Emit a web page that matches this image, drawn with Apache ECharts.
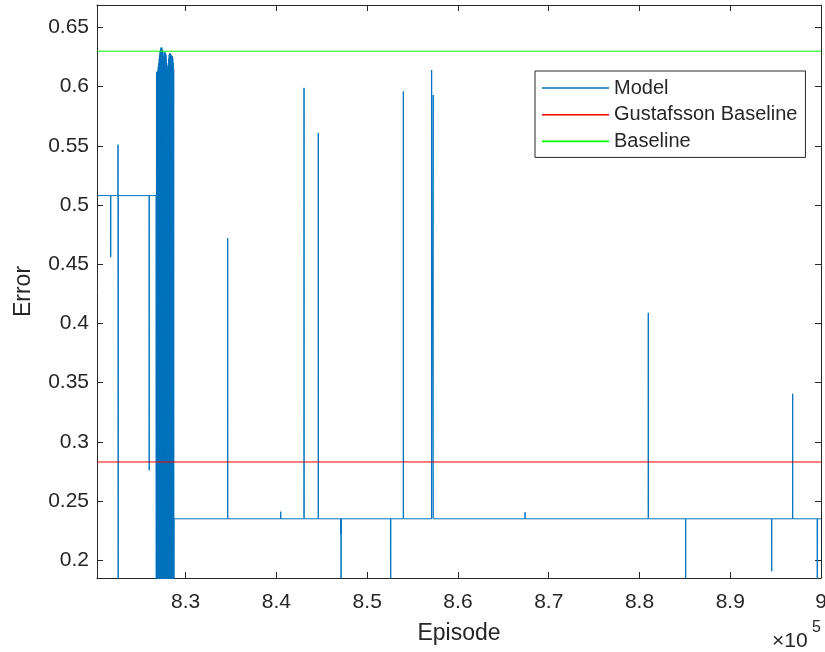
<!DOCTYPE html>
<html>
<head>
<meta charset="utf-8">
<script src="https://cdn.jsdelivr.net/npm/echarts@6/dist/echarts.min.js"></script>
<style>
  html, body { margin: 0; padding: 0; background: #fff; }
  #chart { width: 825px; height: 652px; }
</style>
</head>
<body>
<div id="chart"></div>
<script>
// Model error per episode: early plateau and isolated spikes
const earlyX = [820230, 821730, 821740, 821750, 822530, 822540, 822560, 822575,
                825970, 825980, 825990, 826730];
const earlyY = [0.508, 0.508, 0.456, 0.508, 0.508, 0.551, 0.17, 0.508,
                0.508, 0.276, 0.508, 0.508];

// Dense oscillating burst around 8.27e5
const burstX = [
  826755, 826780, 826805, 826830, 826855, 826880, 826905, 826930, 826955, 826980,
  827005, 827030, 827055, 827080, 827105, 827130, 827155, 827180, 827205, 827230,
  827255, 827280, 827305, 827330, 827355, 827380, 827405, 827430, 827455, 827480,
  827505, 827530, 827555, 827580, 827605, 827630, 827655, 827680, 827705, 827730,
  827755, 827780, 827805, 827830, 827855, 827880, 827905, 827930, 827955, 827980,
  828005, 828030, 828055, 828080, 828105, 828130, 828155, 828180, 828205, 828230,
  828255, 828280, 828305, 828330, 828355, 828380, 828405, 828430, 828455, 828480,
  828505, 828530, 828555, 828580, 828605, 828630, 828655, 828680, 828705
];
const burstY = [
  0.17, 0.612, 0.17, 0.612, 0.17, 0.613, 0.17, 0.614, 0.17, 0.617,
  0.17, 0.620, 0.17, 0.624, 0.17, 0.627, 0.17, 0.630, 0.17, 0.632,
  0.17, 0.633, 0.17, 0.632, 0.17, 0.633, 0.17, 0.631, 0.17, 0.630,
  0.17, 0.626, 0.17, 0.624, 0.17, 0.628, 0.17, 0.629, 0.17, 0.629,
  0.17, 0.628, 0.17, 0.627, 0.17, 0.622, 0.17, 0.618, 0.17, 0.615,
  0.17, 0.616, 0.17, 0.620, 0.17, 0.624, 0.17, 0.627, 0.17, 0.628,
  0.17, 0.627, 0.17, 0.628, 0.17, 0.627, 0.17, 0.626, 0.17, 0.625,
  0.17, 0.626, 0.17, 0.624, 0.17, 0.620, 0.17, 0.615, 0.17
];

// Settled level with later spikes
const lateX = [
  828720,
  834620, 834630, 834640,
  840460, 840470, 840480,
  843030, 843040, 843050,
  844600, 844610, 844620,
  847080, 847090, 847100, 847120, 847135,
  852580, 852590, 852600,
  853970, 853980, 853990,
  857090, 857100, 857110, 857260, 857270, 857280,
  867380, 867390, 867400,
  880960, 880970, 880980,
  885080, 885090, 885100,
  894560, 894570, 894580,
  896870, 896880, 896890,
  899580, 899590, 899600,
  900000
];
const lateY = [
  0.235,
  0.235, 0.472, 0.235,
  0.235, 0.241, 0.235,
  0.235, 0.599, 0.235,
  0.235, 0.561, 0.235,
  0.235, 0.222, 0.235, 0.17, 0.235,
  0.235, 0.17, 0.235,
  0.235, 0.596, 0.235,
  0.235, 0.614, 0.235, 0.235, 0.593, 0.235,
  0.235, 0.2405, 0.235,
  0.235, 0.409, 0.235,
  0.235, 0.17, 0.235,
  0.235, 0.1907, 0.235,
  0.235, 0.3406, 0.235,
  0.235, 0.17, 0.235,
  0.235
];

// Reference error levels
const gustafssonBaseline = 0.283;
const baseline = 0.63;

// Axis extents and tick positions
const xRange = [820227, 900000];
const yRange = [0.185, 0.669];
const xTicks = [830000, 840000, 850000, 860000, 870000, 880000, 890000, 900000];
const yTicks = [0.2, 0.25, 0.3, 0.35, 0.4, 0.45, 0.5, 0.55, 0.6, 0.65];

const ink = '#262626';
const font = '"Liberation Sans", Arial, Helvetica, sans-serif';

const chart = echarts.init(document.getElementById('chart'), null, { renderer: 'canvas' });

const modelXs = earlyX.concat(burstX, lateX);
const modelYs = earlyY.concat(burstY, lateY);
const modelData = modelXs.map((x, i) => [x, modelYs[i]]);

const baseAxisX = {
  type: 'value', min: xRange[0], max: xRange[1],
  splitLine: { show: false },
  axisLine: { show: true, lineStyle: { color: ink, width: 1 } },
  axisTick: { show: true, inside: true, length: 6, customValues: xTicks, lineStyle: { color: ink } }
};
const baseAxisY = {
  type: 'value', min: yRange[0], max: yRange[1],
  splitLine: { show: false },
  axisLine: { show: true, lineStyle: { color: ink, width: 1 } },
  axisTick: { show: true, inside: true, length: 6, customValues: yTicks, lineStyle: { color: ink } }
};

// Legend swatch: a short horizontal stroke
const lineIcon = 'path://M0,0H67V1.6H0Z';

chart.setOption({
  animation: false,
  backgroundColor: '#ffffff',
  grid: { left: 97, right: 4, top: 5, bottom: 74, containLabel: false, outerBoundsMode: 'none' },
  xAxis: [
    Object.assign({}, baseAxisX, {
      position: 'bottom',
      name: 'Episode', nameLocation: 'middle', nameGap: 44,
      nameTextStyle: { color: ink, fontSize: 23, fontFamily: font },
      axisLabel: {
        show: true, customValues: xTicks, margin: 14,
        color: ink, fontSize: 21, fontFamily: font,
        formatter: v => String(+(v / 1e5).toFixed(1))
      }
    }),
    Object.assign({}, baseAxisX, { position: 'top', axisLabel: { show: false } })
  ],
  yAxis: [
    Object.assign({}, baseAxisY, {
      position: 'left',
      name: 'Error', nameLocation: 'middle', nameGap: 62,
      nameTextStyle: { color: ink, fontSize: 23, fontFamily: font },
      axisLabel: {
        show: true, customValues: yTicks, margin: 8,
        color: ink, fontSize: 21, fontFamily: font,
        formatter: v => String(+v.toFixed(2))
      }
    }),
    Object.assign({}, baseAxisY, { position: 'right', axisLabel: { show: false } })
  ],
  legend: {
    orient: 'vertical',
    left: 535, top: 71,
    backgroundColor: '#ffffff',
    borderColor: ink, borderWidth: 1, borderRadius: 0,
    padding: [7, 8, 6, 7],
    itemWidth: 67, itemHeight: 14, itemGap: 6.7,
    textStyle: { color: ink, fontSize: 20, fontFamily: font, lineHeight: 20 },
    data: [
      { name: 'Model', icon: lineIcon },
      { name: 'Gustafsson Baseline', icon: lineIcon },
      { name: 'Baseline', icon: lineIcon }
    ]
  },
  graphic: [
    {
      type: 'text', left: 772, top: 631,
      style: { text: '×10', fill: ink, fontSize: 21, fontFamily: font }
    },
    {
      type: 'text', left: 812, top: 620,
      style: { text: '5', fill: ink, fontSize: 16, fontFamily: font }
    }
  ],
  series: [
    {
      name: 'Model', type: 'line', symbol: 'none', showSymbol: false,
      xAxisIndex: 0, yAxisIndex: 0,
      lineStyle: { color: '#0072BD', width: 1 },
      itemStyle: { color: '#0072BD' },
      data: modelData, clip: true, z: 2
    },
    {
      name: 'Gustafsson Baseline', type: 'line', symbol: 'none', showSymbol: false,
      lineStyle: { color: '#FF0000', width: 1 },
      itemStyle: { color: '#FF0000' },
      data: [[xRange[0], gustafssonBaseline], [xRange[1], gustafssonBaseline]], z: 3
    },
    {
      name: 'Baseline', type: 'line', symbol: 'none', showSymbol: false,
      lineStyle: { color: '#00FF00', width: 1 },
      itemStyle: { color: '#00FF00' },
      data: [[xRange[0], baseline], [xRange[1], baseline]], z: 3
    }
  ]
});
</script>
</body>
</html>
